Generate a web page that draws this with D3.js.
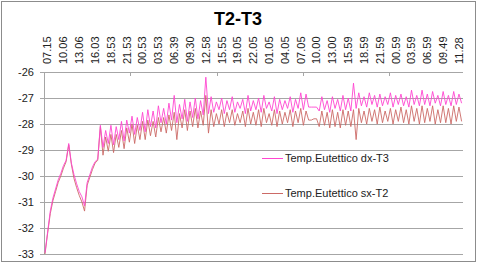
<!DOCTYPE html>
<html>
<head>
<meta charset="utf-8">
<script src="https://d3js.org/d3.v7.min.js"></script>
<style>
  body { margin: 0; background: #fff; }
  svg { font-family: "Liberation Sans", Arial, sans-serif; }
  .grid line { stroke: #a6a6a6; }
</style>
</head>
<body>
<svg></svg>
<script>
var tickLabels = ["07.15","10.06","13.06","16.03","18.53","21.53","00.53","03.53","06.39","09.30","12.58","15.55","19.05","22.05","01.05","04.05","07.05","10.00","13.00","15.59","18.59","21.59","00.59","03.59","06.59","09.49","11.28"];

var yTicks = [-26, -27, -28, -29, -30, -31, -32, -33];

var seriesNames = ["Temp.Eutettico dx-T3", "Temp.Eutettico sx-T2"];

var dx = [-32.95,-32.15,-31.35,-30.85,-30.5,-30.15,-29.9,-29.6,-29.4,-28.75,
  -29.5,-29.95,-30.3,-30.6,-30.8,-31.15,-30.25,-29.95,-29.65,-29.45,-29.35,
  -28.05,-28.9,-28.25,-28.75,-28.05,-28.8,-28.1,-28.6,-27.9,-28.65,
  -27.85,-28.35,-27.7,-28.4,-27.75,-28.25,-27.55,-28.3,-27.45,-28.1,
  -27.5,-28.15,-27.3,-27.95,-27.4,-28.0,-27.2,-27.85,-26.9,-27.95,
  -27.25,-27.8,-27.05,-27.9,-27.15,-27.75,-27.0,-27.8,-27.1,-27.65,
  -26.2,-27.6,-26.95,-27.55,-27.15,-27.45,-27.0,-27.6,-27.1,-27.45,
  -26.95,-27.55,-27.15,-27.4,-27.05,-27.6,-26.9,-27.5,-27.1,-27.45,
  -27.0,-27.55,-26.9,-27.4,-27.15,-27.5,-26.95,-27.6,-27.05,-27.45,
  -27.1,-27.4,-26.95,-27.55,-27.05,-27.4,-26.8,-27.45,-26.85,-27.35,
  -27.35,-27.35,-27.35,-27.5,-26.95,-27.45,-27.1,-27.55,-26.95,-27.4,
  -27.05,-27.5,-26.9,-27.45,-27.0,-27.5,-26.43,-27.4,-26.8,-27.3,
  -26.95,-27.35,-26.8,-27.25,-26.9,-27.35,-26.85,-27.3,-26.95,-27.25,
  -26.8,-27.35,-26.9,-27.25,-26.85,-27.3,-26.95,-27.35,-26.7,-27.25,
  -26.9,-27.3,-26.7,-27.25,-26.85,-27.3,-26.75,-27.2,-26.9,-27.3,
  -26.75,-27.25,-26.9,-27.3,-26.75,-27.25,-26.85,-27.2];

var sx = [-33.0,-32.2,-31.45,-30.95,-30.6,-30.25,-30.0,-29.7,-29.45,-28.8,
  -29.55,-30.1,-30.45,-30.75,-31.0,-31.35,-30.35,-30.05,-29.75,-29.5,-29.4,
  -28.1,-29.2,-28.5,-29.05,-28.4,-29.1,-28.4,-28.9,-28.25,-28.95,
  -28.15,-28.7,-28.0,-28.75,-28.05,-28.6,-27.9,-28.6,-27.85,-28.45,
  -27.9,-28.5,-27.75,-28.3,-27.75,-28.35,-27.65,-28.25,-27.55,-28.6,
  -27.6,-28.15,-27.45,-28.25,-27.5,-28.1,-27.4,-28.15,-27.5,-28.05,
  -26.9,-28.35,-27.45,-28.1,-27.6,-28.0,-27.45,-28.1,-27.55,-27.95,
  -27.45,-28.05,-27.6,-27.95,-27.5,-28.1,-27.4,-28.0,-27.55,-28.05,
  -27.45,-28.1,-27.4,-27.95,-27.6,-28.05,-27.45,-28.1,-27.5,-28.0,
  -27.55,-27.95,-27.45,-28.1,-27.5,-27.95,-27.4,-28.05,-27.5,-27.85,
  -27.85,-27.8,-27.8,-28.1,-27.5,-28.05,-27.55,-28.15,-27.45,-28.1,
  -27.55,-28.15,-27.45,-28.05,-27.5,-28.1,-27.45,-28.6,-27.4,-27.95,
  -27.5,-28.0,-27.4,-27.9,-27.45,-28.0,-27.35,-27.95,-27.5,-27.9,
  -27.4,-28.0,-27.45,-27.9,-27.35,-27.95,-27.45,-28.0,-27.3,-27.9,
  -27.4,-28.0,-27.3,-27.95,-27.4,-27.9,-27.3,-28.0,-27.45,-27.95,
  -27.3,-27.95,-27.4,-28.0,-27.3,-27.9,-27.35,-27.9];

var colors = ["#ff45d0", "#cc6a66"];

drawChart();

function drawChart()
{
  var width = 480,
      height = 263,
      left = 44,
      right = 463,
      top = 72,
      bottom = 254,
      labelEvery = 6,      // points between two category labels
      tickEvery = 32.73;   // points between two axis tick marks

  var xscale = d3.scaleLinear()
    .domain([0, dx.length - 1])
    .range([45, 461.6]);

  var yscale = d3.scaleLinear()
    .domain([-26, -33])
    .range([top, bottom]);

  var svg = d3.select("svg")
    .attr("width", width)
    .attr("height", height);

  //Chart border
  svg.append("rect")
    .attr("x", 1.5).attr("y", 1.5)
    .attr("width", 474).attr("height", 260)
    .attr("fill", "none")
    .attr("stroke", "#8c8c8c");

  //Title
  svg.append("text")
    .attr("x", 238).attr("y", 25)
    .attr("text-anchor", "middle")
    .attr("font-size", 18)
    .attr("font-weight", "bold")
    .text("T2-T3");

  //Horizontal gridlines + y labels
  var grid = svg.append("g").attr("class", "grid");
  grid.selectAll("line")
    .data(yTicks)
    .enter()
    .append("line")
    .attr("x1", left - 4)
    .attr("x2", right)
    .attr("y1", function(d){ return Math.round(yscale(d)) + 0.5; })
    .attr("y2", function(d){ return Math.round(yscale(d)) + 0.5; });

  svg.append("g")
    .selectAll("text")
    .data(yTicks)
    .enter()
    .append("text")
    .attr("x", 34)
    .attr("y", function(d){ return yscale(d); })
    .attr("dy", "0.35em")
    .attr("text-anchor", "end")
    .attr("font-size", 11)
    .attr("fill", "#222")
    .text(function(d){ return d; });

  //Y axis line
  svg.append("line")
    .attr("x1", left + 0.5).attr("x2", left + 0.5)
    .attr("y1", top).attr("y2", bottom + 1)
    .attr("stroke", "#a6a6a6");

  //X axis tick marks
  var xt = d3.range(tickEvery, dx.length, tickEvery);
  svg.append("g")
    .selectAll("line")
    .data(xt)
    .enter()
    .append("line")
    .attr("x1", function(d){ return Math.round(xscale(d - 0.4)) + 0.5; })
    .attr("x2", function(d){ return Math.round(xscale(d - 0.4)) + 0.5; })
    .attr("y1", top)
    .attr("y2", top + 4)
    .attr("stroke", "#a6a6a6");

  //X labels (rotated)
  svg.append("g")
    .selectAll("text")
    .data(tickLabels)
    .enter()
    .append("text")
    .attr("transform", function(d, i){
      return "translate(" + xscale(i * labelEvery + 1) + ",64) rotate(-90)";
    })
    .attr("dy", "0.35em")
    .attr("font-size", 11)
    .attr("fill", "#222")
    .text(function(d){ return d; });

  //Lines
  var line = d3.line()
    .x(function(d, i){ return xscale(i); })
    .y(function(d){ return yscale(d); });

  svg.append("path")
    .datum(sx)
    .attr("d", line)
    .attr("fill", "none")
    .attr("stroke", colors[1])
    .attr("stroke-width", 0.9);

  svg.append("path")
    .datum(dx)
    .attr("d", line)
    .attr("fill", "none")
    .attr("stroke", colors[0])
    .attr("stroke-width", 0.9);

  //Legend
  var legendY = [158, 193];
  var legend = svg.append("g")
    .selectAll("g")
    .data(seriesNames)
    .enter()
    .append("g")
    .attr("transform", function(d, i){ return "translate(0," + legendY[i] + ")"; });

  legend.append("line")
    .attr("x1", 262).attr("x2", 283)
    .attr("y1", 0.5).attr("y2", 0.5)
    .attr("stroke", function(d, i){ return colors[i]; });

  legend.append("text")
    .attr("x", 285)
    .attr("dy", "0.35em")
    .attr("font-size", 11)
    .attr("fill", "#222")
    .text(function(d){ return d; });
}
</script>
</body>
</html>
